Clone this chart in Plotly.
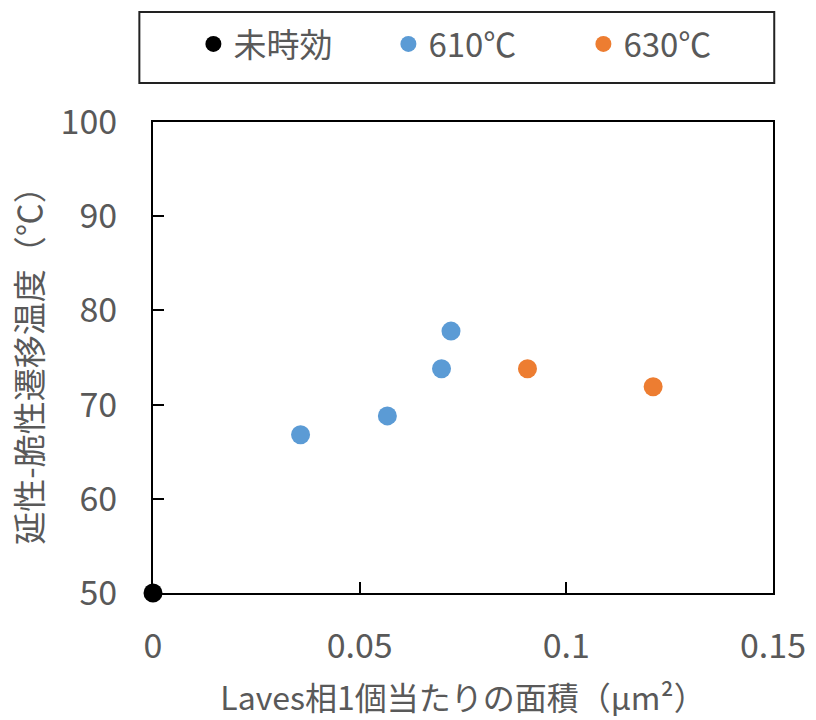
import plotly.graph_objects as go

# Laves phase mean particle area (µm²) vs. ductile-brittle transition temperature (°C)
unaged_x = [0.0]
unaged_y = [50.0]

t610_x = [0.0357, 0.0567, 0.0698, 0.0721]
t610_y = [66.8, 68.8, 73.8, 77.8]

t630_x = [0.0906, 0.1210]
t630_y = [73.8, 71.9]

series_names = ["未時効", "610℃", "630℃"]
x_ticks = [0, 0.05, 0.1, 0.15]
x_tick_text = ["0", "0.05", "0.1", "0.15"]
y_ticks = [50, 60, 70, 80, 90, 100]

TEXT = "#595959"
FONT = "Noto Sans CJK JP"

fig = go.Figure()
for xs, ys, name, color in [
    (unaged_x, unaged_y, series_names[0], "#000000"),
    (t610_x, t610_y, series_names[1], "#5B9BD5"),
    (t630_x, t630_y, series_names[2], "#ED7D31"),
]:
    fig.add_trace(go.Scatter(
        x=xs, y=ys, mode="markers", name=name,
        marker=dict(color=color, size=19, line=dict(width=0)),
        cliponaxis=False,
    ))

fig.update_layout(
    width=816, height=720,
    margin=dict(l=153, r=43, t=122, b=127),
    paper_bgcolor="white", plot_bgcolor="white",
    font=dict(family=FONT, color=TEXT, size=30),
    showlegend=True,
    legend=dict(
        orientation="h",
        xref="container", yref="container",
        x=0.237, y=1 - 16 / 720, xanchor="left", yanchor="top",
        font=dict(family=FONT, size=33, color=TEXT),
        bgcolor="rgba(0,0,0,0)", borderwidth=0,
        entrywidth=150, entrywidthmode="pixels",
        itemwidth=30,
    ),
    shapes=[dict(
        type="rect", xref="paper", yref="paper",
        x0=-0.022, x1=1.002, y0=1 + 39 / 471.0, y1=1 + 110 / 471.0,
        line=dict(color="#222222", width=2), fillcolor="rgba(0,0,0,0)",
    )],
)

fig.update_xaxes(
    range=[0, 0.15], tickvals=x_ticks, ticktext=x_tick_text,
    automargin=False,
    showgrid=False, zeroline=False,
    showline=True, linecolor="#000000", linewidth=2, mirror=True,
    ticks="inside", ticklen=11, tickwidth=1.5, tickcolor="#000000",
    tickfont=dict(family=FONT, size=34, color=TEXT),
    ticklabelstandoff=22,
    title=dict(text="Laves相1個当たりの面積（μm²）",
               font=dict(family=FONT, size=32, color=TEXT), standoff=21),
)
fig.update_yaxes(
    range=[50, 100], tickvals=y_ticks,
    automargin=False,
    showgrid=False, zeroline=False,
    showline=True, linecolor="#000000", linewidth=2, mirror=True,
    ticks="inside", ticklen=11, tickwidth=1.5, tickcolor="#000000",
    tickfont=dict(family=FONT, size=34, color=TEXT),
    ticklabelstandoff=27,
    title=dict(text="延性-脆性遷移温度（℃）",
               font=dict(family=FONT, size=33, color=TEXT), standoff=8),
)

fig.write_html("out.html")
